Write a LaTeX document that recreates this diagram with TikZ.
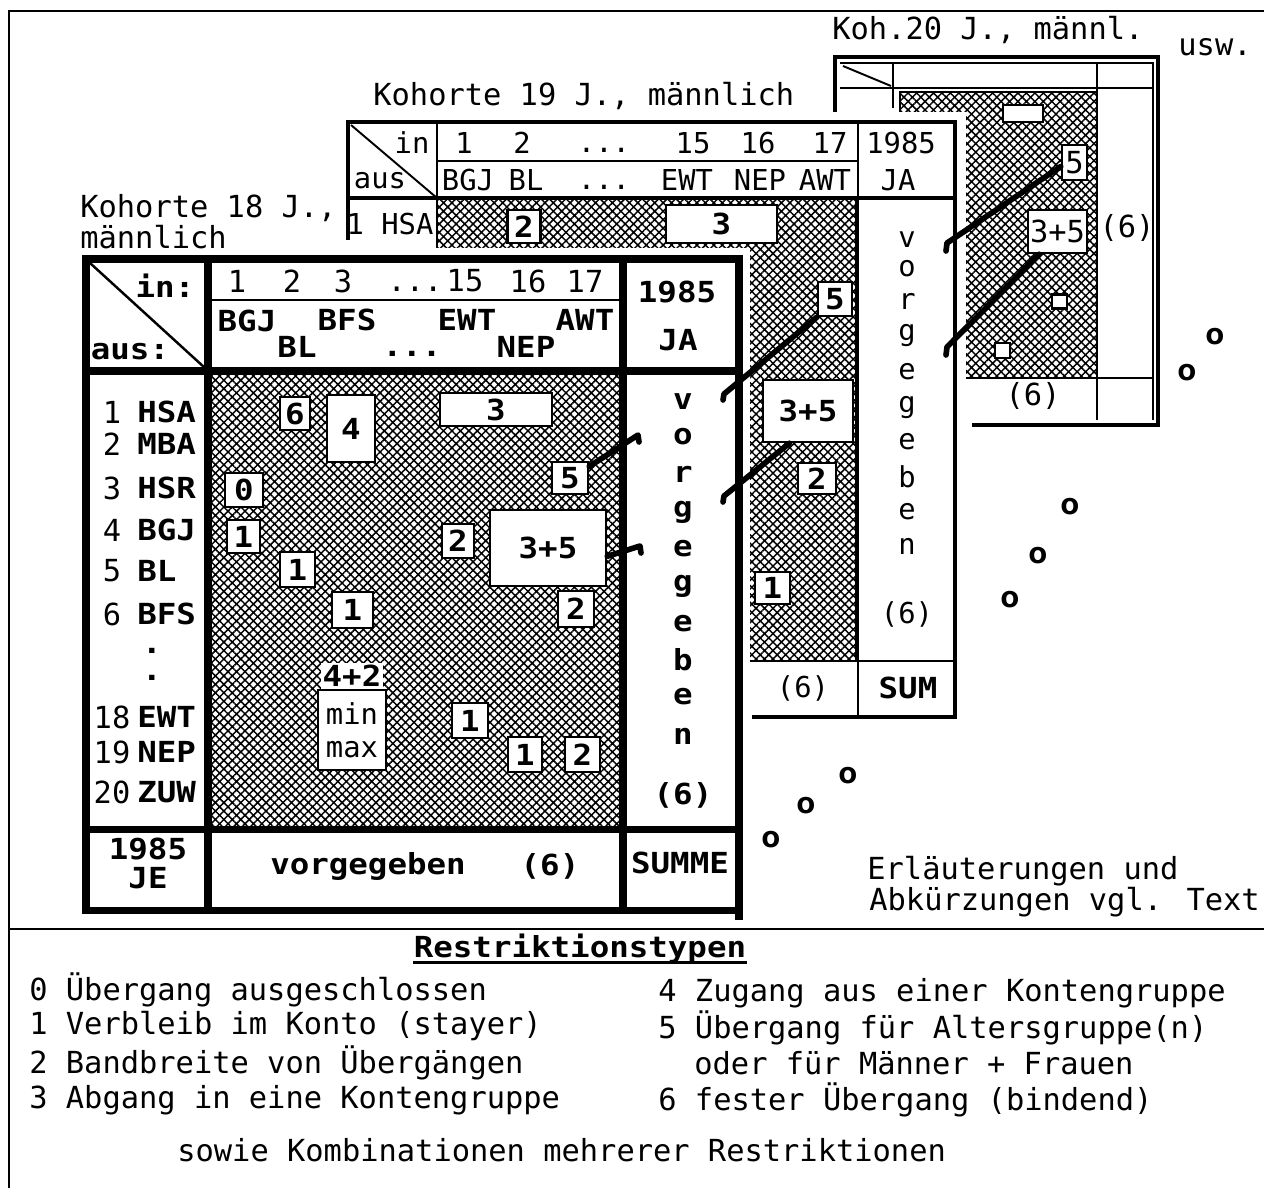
\documentclass[tikz,border=0pt]{standalone}
\usepackage{fontspec}
\newfontfamily\dotfont{DejaVu Sans Mono}
\newfontfamily\dotbold[FakeStretch=1.12]{DejaVu Sans Mono}
\usetikzlibrary{patterns.meta}

\begin{document}
\begin{tikzpicture}[x=0.02cm, y=-0.02cm,
    txtlbl/.style={font=\dotfont\fontsize{17.3}{21}\selectfont, inner sep=0},
    txtsm/.style={font=\dotfont\fontsize{16.4}{20}\selectfont, inner sep=0},
    txtbf/.style={font=\dotbold\bfseries\fontsize{16.5}{20}\selectfont, inner sep=0},
    hatchfill/.style={draw, line width=1pt, pattern={Hatch[angle=45,distance=3.4pt,line width=0.85pt]}},
    rbox/.style={draw, fill=white, line width=1.4pt, inner sep=0},
    conn/.style={line width=3.2pt, line cap=round, line join=round},
    rim18/.style={line width=4pt},
    rim19/.style={line width=2.8pt},
    rule/.style={line width=1.1pt}
]
\useasboundingbox (0,0) rectangle (1264,1187);

\draw[rule] (9,1200) -- (9,11) -- (1280,11);
\draw[line width=1.6pt] (9,929) -- (1280,929);

% Kohorte 20
\draw[hatchfill] (900,92) rectangle (1097,378);
\draw[rim19] (835,115) -- (835,57) -- (1158,57) -- (1158,425) -- (972,425);
\draw[rule] (840,63) -- (1153,63) -- (1153,420);
\draw[rule] (840,88) -- (1153,88);
\draw[rule] (893,63) -- (893,108);
\draw[rule] (1097,63) -- (1097,420);
\draw[rule] (843,66) -- (891,86);
\draw[rule] (965,378) -- (1153,378);
\node[txtlbl] (t20r) at (1127,228) {(6)};
\node[txtlbl] (t20b) at (1033,396) {(6)};
\node[rbox, minimum width=0.8cm, minimum height=0.34cm] (b20three) at (1023,113.5) {};
\node[rbox, txtlbl, minimum width=0.5cm, minimum height=0.7cm] (b20five) at (1074.5,162.5) {5};
\node[rbox, txtlbl, minimum width=1.18cm, minimum height=0.86cm] (b20sum) at (1057.5,231.5) {3+5};
\node[rbox, minimum width=0.3cm, minimum height=0.28cm] (b20sqa) at (1059.5,301.5) {};
\node[rbox, minimum width=0.3cm, minimum height=0.3cm] (b20sqb) at (1002.5,350.5) {};

% Kohorte 19
\fill[white] (339,112) rectangle (966,727);
\draw[hatchfill] (437,198) rectangle (856,661);
\draw[rim19] (348,240) -- (348,122) -- (955,122) -- (955,717) -- (752,717);
\draw[line width=2pt] (348,198) -- (955,198);
\draw[rule] (437,161) -- (858,161);
\draw[rule] (437,122) -- (437,245);
\draw[rule] (858,122) -- (858,717);
\draw[rule] (351,125) -- (437,198);
\draw[rule] (752,661) -- (955,661);
\node[txtsm] (k19in) at (412,143) {in};
\node[txtsm] (k19aus) at (380,181) {aus};
\foreach \t/\xx [count=\i] in {1/464,2/522,15/693,16/758,17/830}
    \node[txtsm] (k19n\i) at (\xx,143) {\t};
\foreach \t/\xx [count=\i] in {BGJ/468,BL/526,EWT/687,NEP/760,AWT/825}
    \node[txtsm] (k19c\i) at (\xx,180) {\t};
\node[txtsm] (k19dots) at (604,150) {...};
\node[txtsm] (k19dotsb) at (604,187) {...};
\node[txtsm] (ja19a) at (901,143) {1985};
\node[txtsm] (ja19b) at (898,180) {JA};
\node[txtsm] (r19) at (390,224) {1 HSA};
\foreach \ch/\yy [count=\i] in {v/240,o/269,r/301,g/336,e/372,g/408,e/442,b/477,e/512,n/546}
    \node[txtsm] (v19\i) at (907,\yy) {\ch};
\node[txtsm] (s19c) at (907,614) {(6)};
\node[txtsm] (s19a) at (803,688) {(6)};
\node[txtbf] (s19b) at (908,688) {SUM};
\node[rbox, txtbf, minimum width=0.66cm, minimum height=0.66cm] (b19two) at (524,226.5) {2};
\node[rbox, txtbf, minimum width=2.22cm, minimum height=0.76cm] (b19three) at (721.5,224) {3};
\node[rbox, txtbf, minimum width=0.68cm, minimum height=0.68cm] (b19five) at (835,299) {5};
\node[rbox, txtbf, minimum width=1.8cm, minimum height=1.24cm] (b19sum) at (808,411) {3+5};
\node[rbox, txtbf, minimum width=0.76cm, minimum height=0.62cm] (b19twob) at (817,478.5) {2};
\node[rbox, txtbf, minimum width=0.7cm, minimum height=0.64cm] (b19one) at (772.5,588) {1};

% Kohorte 18
\fill[white] (78,248) rectangle (750,922);
\draw[hatchfill] (210,373) rectangle (621,827);
\draw[rim18] (86,259) rectangle (739,910);
\draw[rim18] (739,906) -- (739,920);
\draw[rim18] (86,371) -- (739,371);
\draw[rim18] (208,259) -- (208,910);
\draw[rim18] (623,259) -- (623,910);
\draw[rim18] (86,829) -- (739,829);
\draw[rule] (208,300) -- (623,300);
\draw[line width=1.4pt] (90,263) -- (205,368);
\node[txtbf] (k18in) at (165,286) {in:};
\node[txtbf] (k18aus) at (130,352) {aus:};
\foreach \t/\xx [count=\i] in {1/237,2/292,3/343,15/465,16/528,17/585}
    \node[txtlbl] (k18n\i) at (\xx,281) {\t};
\node[txtlbl] (k18dots) at (415,289) {...};
\foreach \t/\xx/\yy [count=\i] in {BGJ/247/321,BFS/347/320,EWT/467/320,AWT/585/320,BL/297/347,NEP/526/347}
    \node[txtbf] (k18c\i) at (\xx,\yy) {\t};
\node[txtbf] (k18dotsb) at (412,354) {...};
\node[txtbf] (ja18a) at (677,292) {1985};
\node[txtbf] (ja18b) at (678,340) {JA};
\foreach \n/\c/\yy [count=\i] in {1/HSA/412,2/MBA/444,3/HSR/488,4/BGJ/530,5/BL/571,6/BFS/614,18/EWT/717,19/NEP/752,20/ZUW/792} {
    \node[txtlbl] (rn\i) at (112,\yy) {\n};
    \node[txtbf, anchor=west] (rc\i) at (137,\yy) {\c};
}
\node[txtbf] (rdota) at (152,651) {.};
\node[txtbf] (rdotb) at (152,678) {.};
\foreach \ch/\yy [count=\i] in {v/402,o/437,r/474,g/512,e/549,g/586,e/624,b/660,e/697,n/736}
    \node[txtbf] (v18\i) at (683,\yy) {\ch};
\node[txtbf] (s18c) at (683,795) {(6)};
\node[txtbf] (je18a) at (148,849) {1985};
\node[txtbf] (je18b) at (148,878) {JE};
\node[txtbf] (s18a) at (368,866) {vorgegeben};
\node[txtbf] (s18b) at (550,866) {(6)};
\node[txtbf] (s18d) at (680,863) {SUMME};
\node[rbox, txtbf, minimum width=0.6cm, minimum height=0.66cm] (b18six) at (295,413.5) {6};
\node[rbox, txtbf, minimum width=0.96cm, minimum height=1.34cm] (b18four) at (351,428.5) {4};
\node[rbox, txtbf, minimum width=2.24cm, minimum height=0.66cm] (b18three) at (496,409.5) {3};
\node[rbox, txtbf, minimum width=0.72cm, minimum height=0.64cm] (b18five) at (570,478) {5};
\node[rbox, txtbf, minimum width=0.76cm, minimum height=0.68cm] (b18zero) at (244,490) {0};
\node[rbox, txtbf, minimum width=0.66cm, minimum height=0.66cm] (b18onea) at (243.5,536.5) {1};
\node[rbox, txtbf, minimum width=0.64cm, minimum height=0.68cm] (b18twoa) at (458,541) {2};
\node[rbox, txtbf, minimum width=2.32cm, minimum height=1.52cm] (b18sum) at (548,548) {3+5};
\node[rbox, txtbf, minimum width=0.7cm, minimum height=0.7cm] (b18oneb) at (297.5,569.5) {1};
\node[rbox, txtbf, minimum width=0.82cm, minimum height=0.72cm] (b18onec) at (352.5,610) {1};
\node[rbox, txtbf, minimum width=0.72cm, minimum height=0.72cm] (b18twob) at (576,609) {2};
\node[txtbf, fill=white, inner sep=1pt] (b18comb) at (352,676) {4+2};
\node[rbox, align=center, font=\dotfont\fontsize{16.4}{19}\selectfont, minimum width=1.36cm, minimum height=1.6cm] (b18mm) at (352,730) {min\\max};
\node[rbox, txtbf, minimum width=0.72cm, minimum height=0.7cm] (b18oned) at (470,720.5) {1};
\node[rbox, txtbf, minimum width=0.68cm, minimum height=0.7cm] (b18onee) at (525,754.5) {1};
\node[rbox, txtbf, minimum width=0.7cm, minimum height=0.7cm] (b18twoc) at (582.5,754.5) {2};

% Verknuepfungen
\coordinate (e18a) at (638,435);
\coordinate (e18b) at (640,546);
\coordinate (e19a) at (724,394);
\coordinate (e19b) at (724,496);
\coordinate (e20a) at (947,243);
\coordinate (e20b) at (947,347);
\draw[conn] (b18five.31) -- (e18a) -- ++(1,7);
\draw[conn] (b18sum.352) -- (e18b) -- ++(1,7);
\draw[conn] (b19five.south west) -- (e19a) -- ++(-1,6);
\draw[conn] (b19sum.240) -- (e19b) -- ++(-1,6);
\draw[conn] (b20five.196) -- (e20a) -- ++(-1,8);
\draw[conn] (b20sum.231) -- (e20b) -- ++(-1,8);

\foreach \xx/\yy [count=\i] in {1215/337,1187/373,1070/507,1038/556,1010/600,848/776,806/806,771/840}
    \node[txtbf] (o\i) at (\xx,\yy) {o};

\node[txtlbl, anchor=west] (lab20) at (832,30) {Koh.20 J., männl.};
\node[txtlbl] (usw) at (1215,47) {usw.};
\node[txtlbl, anchor=west] (lab19) at (373,96) {Kohorte 19 J., männlich};
\node[txtlbl, anchor=west] (lab18a) at (80,208) {Kohorte 18 J.,};
\node[txtlbl, anchor=west] (lab18b) at (80,237) {männlich};
\node[txtlbl, anchor=west] (note1) at (867,871) {Erläuterungen und};
\node[txtlbl, anchor=west] (note2) at (869,902) {Abkürzungen vgl. Text};

% Restriktionstypen
\node[txtbf] (legtitle) at (580,949) {Restriktionstypen};
\draw[line width=1.6pt] ([yshift=1pt]legtitle.south west) -- ([yshift=1pt]legtitle.south east);
\foreach \t/\yy [count=\i] in {0 Übergang ausgeschlossen/990,1 Verbleib im Konto (stayer)/1026,2 Bandbreite von Übergängen/1063,3 Abgang in eine Kontengruppe/1100}
    \node[txtlbl, anchor=west] (legl\i) at (29,\yy) {\t};
\foreach \t/\yy [count=\i] in {4 Zugang aus einer Kontengruppe/993,5 Übergang für Altersgruppe(n)/1028,6 fester Übergang (bindend)/1100}
    \node[txtlbl, anchor=west] (legr\i) at (658,\yy) {\t};
\node[txtlbl, anchor=west] (legr5b) at (694,1063) {oder für Männer + Frauen};
\node[txtlbl, anchor=west] (legall) at (177,1150) {sowie Kombinationen mehrerer Restriktionen};
\end{tikzpicture}
\end{document}
